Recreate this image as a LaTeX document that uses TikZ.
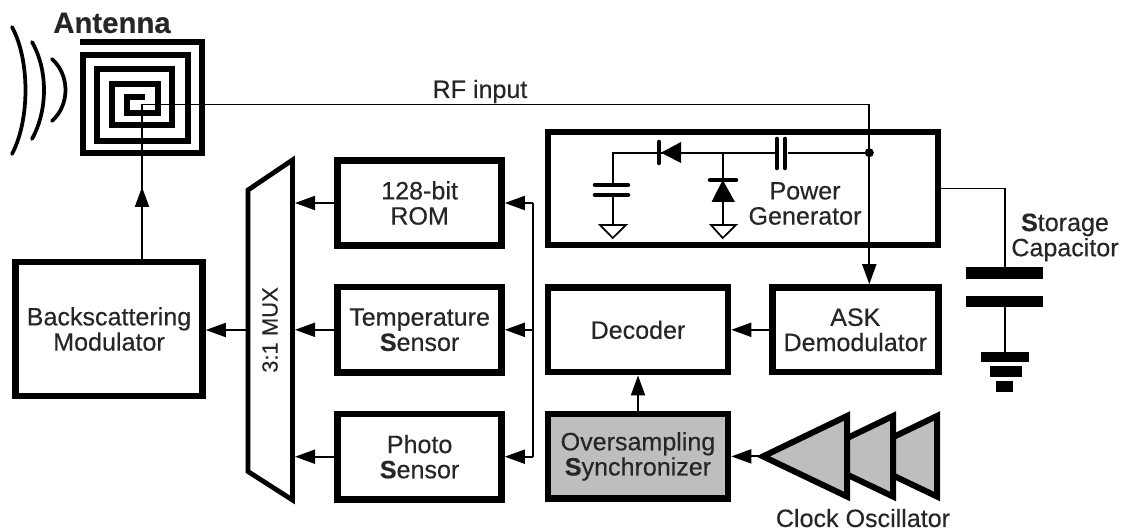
\documentclass[tikz,border=0pt]{standalone}
\usepackage{fontspec}
\setmainfont{Liberation Sans}[FakeBold=0.35]
\usepackage{xcolor}
\usetikzlibrary{arrows.meta, positioning}
\definecolor{blockgray}{HTML}{BEBEBE}
\tikzset{
  blockbox/.style={draw, line width=4.9pt, align=center, text=black!85, inner sep=0pt,
                   font=\fontsize{18.8}{18.9}\selectfont},
  sensorbox/.style={blockbox, minimum width=122.85pt, minimum height=64pt},
  wire/.style={line width=1.4pt},
  conn/.style={wire, -{Triangle[length=15pt,width=10.5pt]}},
  symline/.style={line width=3.4pt, line cap=round},
  gndsym/.style={draw, line width=1.3pt, fill=white},
  plate/.style={fill=black, inner sep=0pt, outer sep=0pt},
  lbl/.style={align=center, text=black!85, inner sep=0pt,
              font=\fontsize{18.8}{18.9}\selectfont}
}
\begin{document}
\begin{tikzpicture}[x=0.75pt, y=-0.75pt]
\useasboundingbox (0,0) rectangle (1125,531);

% antenna
\node[lbl, font=\fontsize{22}{22}\selectfont\bfseries] (antlabel) at (112,23) {Antenna};
\draw[line width=4.5pt, miter limit=10] (80,41.7) -- (202.3,41.7) -- (202.3,153.3) -- (83,153.3) -- (83,55)
  -- (188.3,55) -- (188.3,140.7) -- (97.3,140.7) -- (97.3,68.7) -- (172.3,68.7) -- (172.3,125.3)
  -- (111.7,125.3) -- (111.7,83.7) -- (158.3,83.7) -- (158.3,112.7) -- (127,112.7) -- (127,97.3) -- (145,97.3);
\draw[line width=2.8pt, line cap=round] (12,27) .. controls (30,60) and (30,120) .. (12,154);
\draw[line width=2.8pt, line cap=round] (32,42) .. controls (48,70) and (48,110) .. (32,139);
\draw[line width=2.8pt, line cap=round] (52,59) .. controls (70,75) and (70,105) .. (52,121);
\coordinate (feed) at (142,104.5);
\coordinate (feedtip) at (142,187);

% blocks
\node[blockbox, minimum width=140.25pt, minimum height=100.5pt] (modulator) at (109,329) {Backscattering\\Modulator};
\node[sensorbox] (rom) at (419.6,203) {128-bit\\ROM};
\node[sensorbox] (temp) at (419.6,329.8) {Temperature\\\textbf{S}ensor};
\node[sensorbox] (photo) at (419.6,456.7) {Photo\\\textbf{S}ensor};
\node[blockbox, minimum width=135pt, minimum height=63.5pt] (decoder) at (638,329.8) {Decoder};
\node[blockbox, minimum width=124.5pt, minimum height=63.5pt] (ask) at (855.3,329.8) {ASK\\Demodulator};
\node[blockbox, fill=blockgray, minimum width=135pt, minimum height=63.5pt] (sync) at (638,456.4) {Oversampling\\\textbf{S}ynchronizer};
\node[blockbox, minimum width=292.5pt, minimum height=84.75pt] (power) at (743,188.5) {};
\node[lbl] (powerlabel) at (805,203.5) {Power\\Generator};

% mux
\draw[line width=3.6pt, line join=miter] (248,190) -- (292.5,160) -- (292.5,500) -- (248,471.5) -- cycle;
\node[lbl, rotate=90, font=\fontsize{16.5}{16.5}\selectfont] (muxlabel) at (270,330) {3:1 MUX};
\coordinate (muxleft) at (248,330);
\coordinate (muxrom) at (295,203);
\coordinate (muxtemp) at (295,329.8);
\coordinate (muxphoto) at (295,456.7);

% rf path
\coordinate (rfcorner) at (869.3,104.5);
\coordinate (rfdot) at (869.3,152.7);
\draw[wire] (feed) -- (rfcorner);
\draw[conn] (rfcorner) -- (rfcorner |- ask.north);
\fill (rfdot) circle (3.4pt);
\node[lbl] (rflabel) at (480,91.5) {RF input};
\draw[wire] (feed) -- (feed |- modulator.north);
\draw[conn] (feed |- modulator.north) -- (feedtip);

% control bus
\coordinate (busrom) at (533,203);
\coordinate (bustemp) at (533,329.8);
\coordinate (busphoto) at (533,456.7);
\draw[wire] (busrom) -- (busphoto);
\draw[conn] (busrom) -- (rom.east);
\draw[conn] (bustemp) -- (temp.east);
\draw[conn] (busphoto) -- (photo.east);
\draw[conn] (rom.west) -- (muxrom);
\draw[conn] (temp.west) -- (muxtemp);
\draw[conn] (photo.west) -- (muxphoto);
\draw[conn] (muxleft) -- (muxleft -| modulator.east);
\draw[conn] (ask.west) -- (decoder.east);
\draw[conn] (sync.north) -- (decoder.south);

% clock oscillator
\foreach \x in {937,893,847}{
  \draw[line width=4.5pt, fill=blockgray] (\x,416) -- (\x,496.5) -- ({\x-84},456.4) -- cycle;
}
\coordinate (osctip) at (763,456.4);
\draw[conn] (osctip) -- (sync.east);
\node[lbl] (osclabel) at (863,518) {Clock Oscillator};

% power generator circuit
\coordinate (pgleft) at (612.7,152.7);
\coordinate (pgjoin) at (722.7,152.7);
\draw[wire] (rfdot) -- (788,152.7);
\draw[wire] (776,152.7) -- (pgjoin) -- (660,152.7);
\draw[wire] (660,152.7) -- (pgleft) -- (612.7,185);
\draw[symline] (777,139) -- (777,168);
\draw[symline] (785,139) -- (785,168);
\draw[symline] (659,142) -- (659,163);
\fill (661,152.7) -- (681,142) -- (681,163) -- cycle;
\draw[wire] (pgjoin) -- (722.7,225);
\draw[symline] (710,180) -- (736,180);
\fill (722.7,180) -- (711.5,202) -- (735,202) -- cycle;
\draw[symline] (595,185) -- (628,185);
\draw[symline] (595,195) -- (628,195);
\draw[wire] (612.7,195) -- (612.7,225);
\draw[gndsym] (600,225) -- (626,225) -- (612.7,238) -- cycle;
\draw[gndsym] (711,225) -- (736,225) -- (722.7,238) -- cycle;

% storage capacitor
\node[plate, minimum width=57.75pt, minimum height=8.8pt] (stcaptop) at (1004.8,273.2) {};
\node[plate, minimum width=57.75pt, minimum height=8.8pt] (stcapbot) at (1004.8,301.5) {};
\node[plate, minimum width=36.2pt, minimum height=7.5pt] (stgnda) at (1004.8,357.3) {};
\node[plate, minimum width=24pt, minimum height=8.5pt] (stgndb) at (1005.7,371.7) {};
\node[plate, minimum width=12.5pt, minimum height=8.7pt] (stgndc) at (1004.7,386.5) {};
\draw[wire] (power.east) -| (stcaptop.north);
\draw[wire] (stcapbot.south) -- (stgnda.north);
\node[lbl] (stlabel) at (1065,237.5) {\textbf{S}torage\\Capacitor};
\end{tikzpicture}
\end{document}
